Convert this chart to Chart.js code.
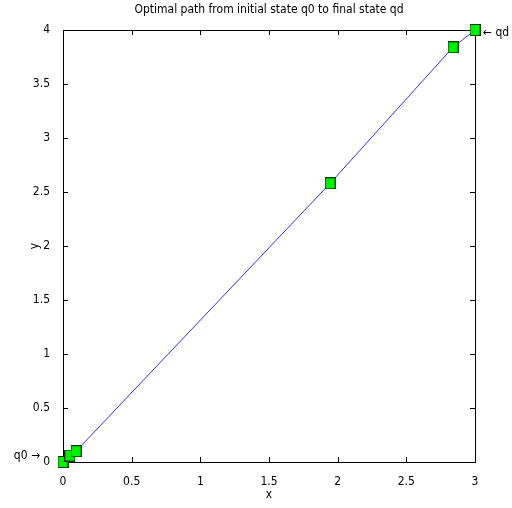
<!DOCTYPE html>
<html>
<head>
<meta charset="utf-8">
<script src="https://cdn.jsdelivr.net/npm/chart.js@4"></script>
<style>
  html, body { margin: 0; padding: 0; background: #fff; }
  #wrap { width: 512px; height: 508px; }
</style>
</head>
<body>
<div id="wrap"><canvas id="chart"></canvas></div>
<script>
// path points
const pathX = [0, 0.05, 0.095, 1.945, 2.84, 3];
const pathY = [0, 0.06, 0.1, 2.58, 3.84, 4];
const xTicks = [0, 0.5, 1, 1.5, 2, 2.5, 3];
const yTicks = [0, 0.5, 1, 1.5, 2, 2.5, 3, 3.5, 4];
const titleText = "Optimal path from initial state q0 to final state qd";
const startLabel = "q0 \u2192";
const endLabel = "\u2190 qd";

const FONT = "'Liberation Sans Narrow', 'DejaVu Sans Condensed', 'Liberation Sans', sans-serif";

// square-ish marker like the matlab 's' marker
const marker = document.createElement("canvas");
marker.width = 11;
marker.height = 12;
const mctx = marker.getContext("2d");
mctx.fillStyle = "#00ee00";
mctx.fillRect(0, 0, 11, 12);
mctx.strokeStyle = "#0a3a0a";
mctx.lineWidth = 1;
mctx.strokeRect(0.5, 0.5, 10, 11);

const boxPlugin = {
  id: "box",
  beforeDatasetsDraw(chart) {
    const { ctx, chartArea: a, scales } = chart;
    ctx.save();
    ctx.strokeStyle = "#000";
    ctx.lineWidth = 1;
    ctx.strokeRect(Math.round(a.left) + 0.5, Math.round(a.top) + 0.5,
      Math.round(a.right - a.left), Math.round(a.bottom - a.top));
    // inward ticks on all four sides
    ctx.beginPath();
    xTicks.forEach(v => {
      const px = Math.round(scales.x.getPixelForValue(v)) + 0.5;
      ctx.moveTo(px, a.bottom); ctx.lineTo(px, a.bottom - 5);
      ctx.moveTo(px, a.top); ctx.lineTo(px, a.top + 5);
    });
    yTicks.forEach(v => {
      const py = Math.round(scales.y.getPixelForValue(v)) + 0.5;
      ctx.moveTo(a.left, py); ctx.lineTo(a.left + 5, py);
      ctx.moveTo(a.right, py); ctx.lineTo(a.right - 5, py);
    });
    ctx.stroke();
    ctx.restore();
  },
  afterDraw(chart) {
    const { ctx, chartArea: a, scales } = chart;
    ctx.save();
    ctx.fillStyle = "#000";
    ctx.font = "12px " + FONT;
    ctx.textBaseline = "middle";
    ctx.textAlign = "center";
    ctx.fillText(titleText, (a.left + a.right) / 2, 10);
    // start / end annotations
    const n = pathX.length - 1;
    ctx.textAlign = "right";
    ctx.fillText(startLabel, scales.x.getPixelForValue(pathX[0]) - 23,
      scales.y.getPixelForValue(pathY[0]) - 6);
    ctx.textAlign = "left";
    ctx.fillText(endLabel, scales.x.getPixelForValue(pathX[n]) + 8,
      scales.y.getPixelForValue(pathY[n]) + 3);
    ctx.restore();
  }
};

const tickFont = { family: FONT, size: 12 };

new Chart(document.getElementById("chart"), {
  type: "scatter",
  data: {
    datasets: [{
      data: pathX.map((x, i) => ({ x: x, y: pathY[i] })),
      showLine: true,
      clip: false,
      borderColor: "#3434d4",
      borderWidth: 1,
      pointStyle: marker,
      pointRadius: 6,
      pointHoverRadius: 6
    }]
  },
  options: {
    responsive: true,
    maintainAspectRatio: false,
    animation: false,
    layout: { padding: { top: 30, right: 37, left: 0, bottom: 0 } },
    plugins: { legend: { display: false }, tooltip: { enabled: false } },
    scales: {
      x: {
        type: "linear",
        min: 0, max: 3,
        grid: { display: false },
        border: { display: false },
        ticks: { stepSize: 0.5, padding: 5, color: "#000", font: tickFont, callback: v => String(v) },
        title: { display: true, text: "x", color: "#000", font: tickFont, padding: { top: 0, bottom: 6 } },
        afterFit(scale) { scale.height = 46; }
      },
      y: {
        type: "linear",
        min: 0, max: 4,
        grid: { display: false },
        border: { display: false },
        ticks: { stepSize: 0.5, padding: 5, color: "#000", font: tickFont, callback: v => String(v) },
        title: { display: true, text: "y", color: "#000", font: tickFont, padding: { top: 28, bottom: 0 } },
        afterFit(scale) { scale.width = 63; }
      }
    }
  },
  plugins: [boxPlugin]
});
</script>
</body>
</html>
